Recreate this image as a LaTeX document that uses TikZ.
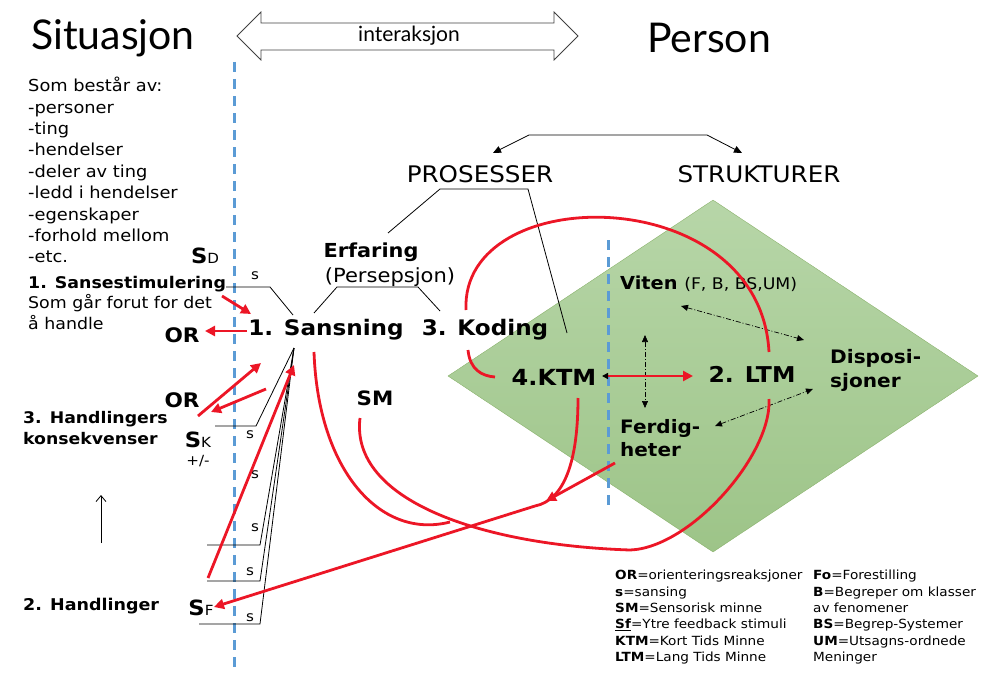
\documentclass[tikz,border=0pt]{standalone}
\usepackage{fontspec}
\setmainfont{DejaVu Sans}[FakeStretch=1.08]
\newfontfamily\titlefont{Lato}
\usetikzlibrary{arrows.meta, shapes.geometric, positioning}

\definecolor{redline}{RGB}{236,22,38}
\definecolor{blueline}{RGB}{91,155,213}
\definecolor{greentop}{RGB}{183,214,168}
\definecolor{greenbot}{RGB}{157,196,136}
\definecolor{greenedge}{RGB}{138,178,108}

\newcommand{\fsize}[2][1.2]{\fontsize{#2}{#1\dimexpr #2pt\relax}\selectfont}

\begin{document}
\begin{tikzpicture}[x=1pt, y=-1pt,
  title/.style={inner sep=0pt, font=\titlefont\fsize{41}},
  plain/.style={inner sep=0pt, font=\fsize{#1}},
  heavy/.style={inner sep=0pt, font=\fsize{#1}\bfseries},
  block/.style={inner sep=0pt, align=left, anchor=north west},
  slabel/.style={inner sep=0pt, font=\fsize{14}},
  redarrow/.style={draw=redline, line width=2.8pt, -{Triangle[length=10pt,width=10pt]}},
  redcurve/.style={draw=redline, line width=2.8pt},
  thinline/.style={draw=black, line width=0.8pt},
  dashpair/.style={draw=black, line width=0.7pt, dash pattern=on 5pt off 2pt on 1pt off 2pt,
    {Triangle[length=7pt,width=6pt]}-{Triangle[length=7pt,width=6pt]}},
  bluedash/.style={draw=blueline, line width=3pt, dash pattern=on 10pt off 7pt}]

  \useasboundingbox (0,0) rectangle (991,685);

  % memory diamond
  \node[diamond, draw=greenedge, top color=greentop, bottom color=greenbot,
        minimum width=530, minimum height=352, inner sep=0pt] (mem) at (713,376) {};

  % Titles and the interaction arrow
  \node[title] (situ) at (113,38) {Situasjon};
  \node[title] (pers) at (709,38) {Person};
  \draw[black!75, line width=0.8pt] (237,36) -- (261,12) -- (261,23) -- (554,23) -- (554,12)
    -- (578,36) -- (554,60) -- (554,50) -- (261,50) -- (261,60) -- cycle;
  \node[inner sep=0pt, font=\titlefont\fsize{21}] (inter) at (409,36) {interaksjon};

  % dashed borders
  \draw[bluedash] (234,62) -- (234,672);
  \draw[bluedash] (608,240) -- (608,505);

  % Situation side
  \node[block, font=\fontsize{16.5}{21.4}\selectfont] (list) at (28,77)
    {Som består av:\\-personer\\-ting\\-hendelser\\-deler av ting\\-ledd i hendelser\\-egenskaper\\-forhold mellom\\-etc.};
  \node[plain=14] (sd) at (205,256) {\fsize{21}\bfseries S\fsize{14}\mdseries D};
  \node[block, font=\fontsize{16.1}{20.5}\selectfont] (stim) at (28,276)
    {\textbf{1. Sansestimulering}\\Som går forut for det\\å handle};
  \node[heavy=20] (or1) at (182,335) {OR};
  \node[heavy=20] (or2) at (182,400) {OR};
  \node[block, font=\fontsize{16}{21}\selectfont\bfseries] (kons) at (23,411)
    {3. Handlingers\\konsekvenser};
  \node[plain=14] (sk) at (198,440) {\fsize{21}\bfseries S\fsize{14}\mdseries K};
  \node[plain=14] (pm) at (198,461) {+/-};
  \node[heavy=16.2, anchor=west] (hand) at (23,606) {2. Handlinger};
  \node[plain=14] (sf) at (201,608) {\fsize{21}\bfseries S\fsize{14}\mdseries F};

  % Process side
  \node[plain=22.8] (pros) at (480,174) {PROSESSER};
  \node[plain=22.8] (strukt) at (759,174) {STRUKTURER};
  \node[heavy=19.3] (erf) at (371,252) {Erfaring};
  \node[plain=19.5] (persep) at (390,277) {(Persepsjon)};
  \node[heavy=21.4] (sans) at (326,330) {1. Sansning};
  \node[heavy=21.4] (kod) at (485,330) {3. Koding};
  \node[heavy=19.8] (sm) at (375,398) {SM};
  \node[heavy=22.2] (ktm) at (554,377) {4.KTM};
  \node[heavy=21.8] (ltm) at (752,374) {2. LTM};
  \node[heavy=17.9, anchor=west] (viten) at (620,284) {Viten \mdseries\fsize{16}(F, B, BS,UM)};
  \node[block, font=\fontsize{18.6}{24}\selectfont\bfseries, anchor=west] (disp) at (830,370) {Disposi-\\sjoner};
  \node[block, font=\fontsize{18.5}{22.5}\selectfont\bfseries, anchor=west] (ferd) at (620,438) {Ferdig-\\heter};

  % s labels
  \node[slabel] (s1) at (255,276) {s};
  \node[slabel] (s2) at (250,435) {s};
  \node[slabel] (s3) at (255,475) {s};
  \node[slabel] (s4) at (255,528) {s};
  \node[slabel] (s5) at (250,572) {s};
  \node[slabel] (s6) at (250,618) {s};

  % legend
  \node[block, font=\fontsize{12.6}{16.4}\selectfont] (legl) at (615,570)
    {\textbf{OR}=orienteringsreaksjoner\\\textbf{s}=sansing\\\textbf{SM}=Sensorisk minne\\
     \underline{\textbf{Sf}}=Ytre feedback stimuli\\\textbf{KTM}=Kort Tids Minne\\\textbf{LTM}=Lang Tids Minne};
  \node[block, font=\fontsize{12.6}{16.4}\selectfont] (legr) at (813,570)
    {\textbf{Fo}=Forestilling\\\textbf{B}=Begreper om klasser\\av fenomener\\
     \textbf{BS}=Begrep-Systemer\\\textbf{UM}=Utsagns-ordnede\\Meninger};

  % points where the connectors end
  \coordinate (apex) at (294,348);
  \coordinate (top1) at (529,135);
  \coordinate (top2) at (707,135);
  \coordinate (pb1) at (440,189);
  \coordinate (pb2) at (528,189);
  \coordinate (eb1) at (337,287);
  \coordinate (eb2) at (418,287);

  % black brackets
  \draw[thinline] (226,287) -- (270,287) -- (293,315);
  \draw[thinline] (314,313) -- (eb1) -- (eb2) -- (440,311);
  \draw[thinline] (388,233) -- (pb1) -- (pb2) -- (567,333);
  \draw[thinline, {Triangle[length=8pt,width=7pt]}-{Triangle[length=8pt,width=7pt]}]
    (493,153) -- (top1) -- (top2) -- (742,153);
  \draw[thinline] (apex) -- (256,426) -- (215,426);
  \draw[thinline] (apex) -- (260,545) -- (207,545);
  \draw[thinline] (apex) -- (260,581) -- (207,581);
  \draw[thinline] (apex) -- (260,624) -- (199,624);
  \draw[thinline, -{Straight Barb[length=6pt,width=10pt]}] (101,543) -- (101,495);

  % dashed links in the diamond
  \draw[dashpair] (645,335) -- (645,408);
  \draw[dashpair] (681,306) -- (804,340);
  \draw[dashpair] (715,426) -- (813,389);

  % red arrows on the left
  \draw[redarrow] (222,296) -- (251,314);
  \draw[redarrow] (247,331) -- (205,331);
  \draw[redarrow] (198,416) -- (261,363);
  \draw[redarrow] (266,389) -- (211,412);
  \draw[redarrow] (208,578) -- (294,365);

  % red loops
  \draw[redcurve] (466,310) .. controls (460,180) and (760,180) .. (769,352);
  \draw[redcurve] (468,350) .. controls (470,370) and (482,376) .. (495,377);
  \draw[redcurve] (314,352) .. controls (318,470) and (380,540) .. (450,522);
  \draw[redcurve] (360,418) .. controls (350,500) and (480,545) .. (630,550)
    .. controls (690,548) and (772,455) .. (769,399);
  \draw[redarrow] (578,398) .. controls (578,460) and (565,500) .. (535,506) -- (214,607);
  \draw[redarrow] (615,463) -- (546,501);
  \draw[draw=redline, line width=2.8pt, {Triangle[black,length=6pt,width=6pt]}-{Triangle[length=10pt,width=10pt]}]
    (602,376) -- (693,376);

\end{tikzpicture}
\end{document}
